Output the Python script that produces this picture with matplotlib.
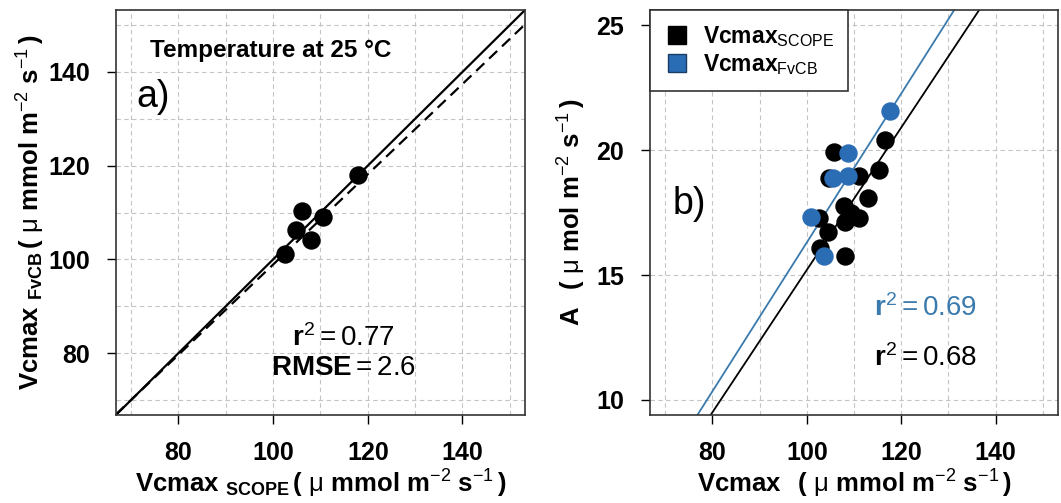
import matplotlib

matplotlib.use("Agg")
import matplotlib.pyplot as plt
from matplotlib.lines import Line2D

plt.rcParams["font.family"] = ["Liberation Sans", "DejaVu Sans"]
plt.rcParams["mathtext.fontset"] = "custom"
plt.rcParams["mathtext.rm"] = "Liberation Sans"
plt.rcParams["mathtext.bf"] = "Liberation Sans:bold"
plt.rcParams["mathtext.it"] = "Liberation Sans:italic"

# panel a: Vcmax from FvCB fit vs SCOPE inversion
a_scope = [118.0, 106.0, 110.6, 104.9, 108.1, 102.5]
a_fvcb = [117.9, 110.3, 109.0, 106.3, 104.2, 101.2]
a_fit = (2.6, 0.963)  # intercept, slope
a_r2 = 0.77
a_rmse = 2.6

# panel b: net assimilation vs Vcmax
b_scope_x = [105.8, 104.7, 111.0, 115.3, 116.5, 113.0, 107.8, 109.4, 111.0,
             108.1, 102.6, 104.4, 102.9, 108.0]
b_scope_y = [19.93, 18.88, 18.96, 19.19, 20.40, 18.10, 17.77, 17.47, 17.30,
             17.12, 17.30, 16.72, 16.08, 15.77]
b_fvcb_x = [117.7, 108.75, 105.6, 108.75, 100.8, 103.7]
b_fvcb_y = [21.55, 19.90, 18.88, 18.96, 17.32, 15.77]
b_fit_scope = (-13.3, 0.285)
b_fit_fvcb = (-13.5, 0.298)
b_r2_scope = 0.68
b_r2_fvcb = 0.69

BLUE = "#2a6db5"
BLUE_LINE = "#3a7aad"
GRID = dict(color="#c4c4c4", ls=(0, (4, 3)), lw=0.8)
XLIM = (66.8, 153.2)
UNITS = r"\,\mathbf{(\ }\mathrm{\mu}\ \mathbf{%s\ m}^{-2}\ \mathbf{s}^{-1}\,\mathbf{)}"

fig = plt.figure(figsize=(10.61, 5.03), dpi=100)
ax1 = fig.add_axes([0.1093, 0.175, 0.3855, 0.805])
ax2 = fig.add_axes([0.6126, 0.175, 0.3846, 0.805])


def style(ax, yminor):
    ax.set_xlim(*XLIM)
    ax.set_xticks([80, 100, 120, 140])
    ax.set_xticks([70, 90, 110, 130, 150], minor=True)
    if yminor:
        ax.set_yticks(yminor, minor=True)
    ax.tick_params(which="major", length=6.5, width=1, labelsize=18, pad=12)
    ax.tick_params(which="minor", length=0)
    for lab in ax.get_xticklabels() + ax.get_yticklabels():
        lab.set_fontweight("bold")
    ax.grid(which="both", **GRID)
    ax.set_axisbelow(True)
    for sp in ax.spines.values():
        sp.set_linewidth(1.2)
        sp.set_color("#333333")


# ---- panel a
ax1.set_ylim(*XLIM)
ax1.set_yticks([80, 100, 120, 140])
style(ax1, [70, 90, 110, 130, 150])
xs = list(XLIM)
ax1.plot(xs, xs, color="black", lw=1.6)
ax1.plot(xs, [a_fit[0] + a_fit[1] * x for x in xs], color="black", lw=1.6,
         ls=(0, (5, 3)))
ax1.scatter(a_scope, a_fvcb, s=150, color="black", zorder=3)
ax1.text(0.083, 0.901, "Temperature at 25 °C", transform=ax1.transAxes,
         fontsize=17.5, fontweight="bold", va="center")
ax1.text(0.05, 0.785, "a)", transform=ax1.transAxes, fontsize=27, va="center")
ax1.text(0.555, 0.19, r"$\mathbf{r}^{2} = %.2f$" % a_r2,
         transform=ax1.transAxes, fontsize=20, ha="center", va="center")
ax1.text(0.555, 0.116, r"$\mathbf{RMSE} = %.1f$" % a_rmse,
         transform=ax1.transAxes, fontsize=20, ha="center", va="center")
ax1.set_xlabel(r"$\mathbf{Vcmax}\ _{\mathbf{SCOPE}}" + UNITS % "mmol" + "$",
               fontsize=18.5, labelpad=2)
ax1.set_ylabel(r"$\mathbf{Vcmax}\ _{\mathbf{FvCB}}" + UNITS % "mmol" + "$",
               fontsize=18.5, labelpad=1)

# ---- panel b
ax2.set_ylim(9.4, 25.6)
ax2.set_yticks([10, 15, 20, 25])
style(ax2, None)
ax2.plot(xs, [b_fit_fvcb[0] + b_fit_fvcb[1] * x for x in xs], color=BLUE_LINE, lw=1.3)
ax2.plot(xs, [b_fit_scope[0] + b_fit_scope[1] * x for x in xs], color="black", lw=1.3)
ax2.scatter(b_scope_x, b_scope_y, s=150, color="black", zorder=3)
ax2.scatter(b_fvcb_x, b_fvcb_y, s=150, color=BLUE, zorder=4)
ax2.text(0.055, 0.52, "b)", transform=ax2.transAxes, fontsize=27, va="center")
ax2.text(0.55, 0.264, r"$\mathbf{r}^{2} = %.2f$" % b_r2_fvcb,
         transform=ax2.transAxes, fontsize=20, color=BLUE_LINE, va="center")
ax2.text(0.55, 0.141, r"$\mathbf{r}^{2} = %.2f$" % b_r2_scope,
         transform=ax2.transAxes, fontsize=20, color="black", va="center")
handles = [Line2D([], [], ls="none", marker="s", ms=13, color="black"),
           Line2D([], [], ls="none", marker="s", ms=13, color=BLUE,
                  markeredgecolor="#1a3d66")]
labels = [r"$\mathbf{Vcmax}_{\mathrm{SCOPE}}$", r"$\mathbf{Vcmax}_{\mathrm{FvCB}}$"]
leg = ax2.legend(handles, labels, loc="upper left", fontsize=16.5,
                 frameon=True, fancybox=False, borderaxespad=0,
                 handlelength=1.2, handletextpad=0.5, labelspacing=0.15,
                 borderpad=0.6)
leg.get_frame().set_edgecolor("#333333")
leg.get_frame().set_linewidth(1.2)
leg.get_frame().set_alpha(1)
leg.set_zorder(5)
ax2.set_xlabel(r"$\mathbf{Vcmax}\ \ " + UNITS % "mmol" + "$",
               fontsize=18.5, labelpad=2)
ax2.set_ylabel(r"$\mathbf{A}\ \ " + UNITS % "mol" + "$",
               fontsize=18.5, labelpad=6)

fig.savefig("out.png", dpi=100)
